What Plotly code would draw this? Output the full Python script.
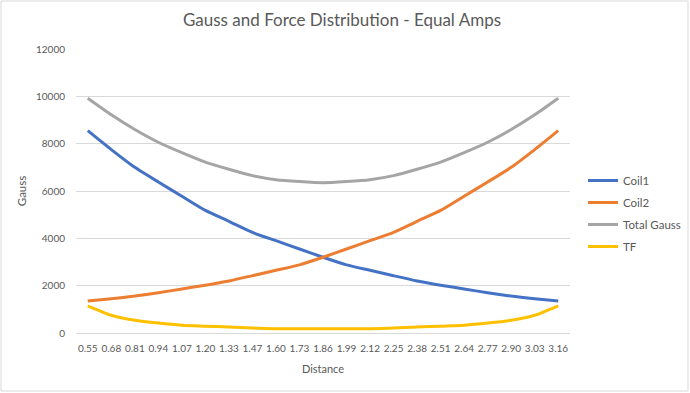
import plotly.graph_objects as go

distance = ["0.55", "0.68", "0.81", "0.94", "1.07", "1.20", "1.33", "1.47", "1.60", "1.73",
            "1.86", "1.99", "2.12", "2.25", "2.38", "2.51", "2.64", "2.77", "2.90", "3.03", "3.16"]
coil1 = [8550, 7750, 7000, 6380, 5780, 5180, 4720, 4250, 3900, 3550,
         3200, 2880, 2650, 2420, 2200, 2020, 1860, 1700, 1560, 1450, 1350]
coil2 = [1350, 1450, 1560, 1700, 1860, 2020, 2200, 2420, 2650, 2880,
         3200, 3550, 3900, 4250, 4720, 5180, 5780, 6380, 7000, 7750, 8550]
total_gauss = [9920, 9220, 8600, 8060, 7620, 7220, 6920, 6650, 6480, 6400,
               6350, 6400, 6480, 6650, 6920, 7220, 7620, 8060, 8600, 9220, 9920]
tf = [1150, 750, 540, 420, 330, 290, 250, 210, 180, 180,
      180, 180, 180, 210, 250, 290, 330, 420, 540, 750, 1150]

series = [("Coil1", coil1, "#4472C4"), ("Coil2", coil2, "#ED7D31"),
          ("Total Gauss", total_gauss, "#A5A5A5"), ("TF", tf, "#FFC000")]

fig = go.Figure()
for name, vals, col in series:
    fig.add_trace(go.Scatter(x=distance, y=vals, name=name, mode="lines", legendgroup=name,
                             line=dict(color=col, width=3, shape="spline", smoothing=0.6)))

font_family = "Lato, 'Open Sans', sans-serif"
fig.update_layout(
    width=690, height=393,
    margin=dict(l=76, r=120, t=49, b=60, autoexpand=False),
    paper_bgcolor="white", plot_bgcolor="white",
    font=dict(family=font_family, color="#595959", size=10),
    title=dict(text="Gauss and Force Distribution - Equal Amps", x=342/690, xanchor="center",
               y=1 - 20/393, yanchor="middle", font=dict(size=17, color="#595959")),
    xaxis=dict(type="category", range=[-0.5, 20.5], showgrid=False, showline=False,
               zeroline=False, ticks="", tickfont=dict(size=10, color="#595959"),
               tickangle=0, ticklabelstandoff=8,
               title=dict(text="Distance", font=dict(size=11, color="#595959"), standoff=12)),
    yaxis=dict(range=[0, 12000], dtick=2000, tickformat="d", showgrid=True, gridcolor="#D9D9D9",
               gridwidth=1, zeroline=True, zerolinecolor="#D9D9D9", zerolinewidth=1,
               showline=False, ticks="", ticklabelstandoff=10,
               tickfont=dict(size=10, color="#595959"),
               title=dict(text="Gauss", font=dict(size=11.5, color="#595959"), standoff=6)),
    legend=dict(x=(583 - 76) / 494, xanchor="left", y=(333 - 213.5) / 284, yanchor="middle",
                font=dict(size=11.5, color="#595959"), tracegroupgap=3, itemwidth=30,
                bgcolor="rgba(0,0,0,0)"),
    showlegend=True,
)
fig.add_shape(type="rect", xref="paper", yref="paper",
              x0=(1 - 76) / 494, x1=(688 - 76) / 494, y0=(333 - 391) / 284, y1=(333 - 1) / 284,
              line=dict(color="#D9D9D9", width=1), fillcolor="rgba(0,0,0,0)", layer="below")

fig.write_html("out.html", config={"displayModeBar": False},
               post_script="document.body.style.margin='0';")
